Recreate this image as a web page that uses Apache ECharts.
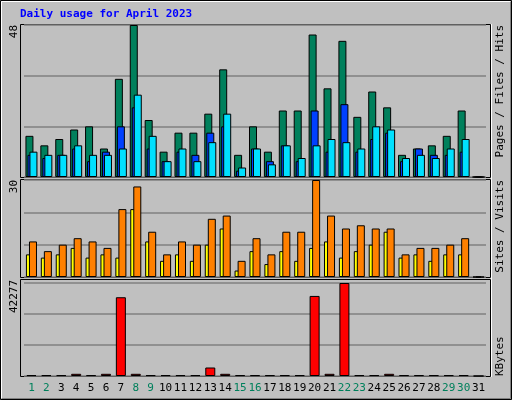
<!DOCTYPE html>
<html><head><meta charset="utf-8">
<script src="https://cdn.jsdelivr.net/npm/echarts@6/dist/echarts.min.js"></script>
<style>html,body{margin:0;padding:0;background:#c0c0c0}#c{width:512px;height:400px}</style>
</head><body><div id="c"></div>
<script>
const days = ['1','2','3','4','5','6','7','8','9','10','11','12','13','14','15','16','17','18','19','20','21','22','23','24','25','26','27','28','29','30','31'];
const weekend = ['1','2','8','9','15','16','22','23','29','30'];
const hits  = [13,10,12,15,16,9,31,48,18,8,14,14,20,34,7,16,8,21,21,45,28,43,19,27,22,7,9,10,13,21,0];
const files = [7,6,7,9,5,8,16,22,9,5,8,7,14,16,2,9,5,10,5,21,8,23,8,12,14,5,9,7,7,8,0];
const pages = [8,7,7,10,7,7,9,26,13,5,9,5,11,20,3,9,4,10,6,10,12,11,9,16,15,6,7,6,9,12,0];
const sites = [7,6,7,9,6,7,6,21,11,5,7,5,10,15,2,8,4,8,5,9,11,6,8,10,14,6,7,5,7,7,0];
const visits= [11,8,10,12,11,9,21,28,14,7,11,10,18,19,5,12,7,14,14,30,19,15,16,15,15,7,9,9,10,12,0];
const kbytes= [400,400,400,1000,400,1000,35800,1000,400,400,400,400,3860,1000,400,400,400,400,400,36400,1000,42277,400,400,1000,400,400,400,400,400,0];
const maxLabels = ['48','30','42277'];

const ch = echarts.init(document.getElementById('c'));
const L = 24, W = 462;
const grids = [
  {left:L, width:W, top:25, height:152},
  {left:L, width:W, top:180, height:97},
  {left:L, width:W, top:283, height:93}
];
const mkX = (i, show) => ({type:'category', gridIndex:i, data:days, boundaryGap:true,
  axisLine:{show:false}, axisTick:{show:false},
  axisLabel:{show:show, margin:7, interval:0, fontFamily:'DejaVu Sans Mono', fontSize:11,
    formatter:v => weekend.includes(v) ? '{g|'+v+'}' : '{k|'+v+'}',
    rich:{g:{color:'#00805c', fontFamily:'DejaVu Sans Mono', fontSize:11}, k:{color:'#000', fontFamily:'DejaVu Sans Mono', fontSize:11}}}});
const mkY = (i, max) => ({type:'value', gridIndex:i, min:0, max:max, interval:max/3,
  axisLabel:{show:false}, axisLine:{show:false}, axisTick:{show:false},
  splitLine:{lineStyle:{color:'#808080', width:1.5}}});
const bs = {borderColor:'#000', borderWidth:1};
const bar = (name, data, xi, color, w, gap) => ({type:'bar', name, data, xAxisIndex:xi, yAxisIndex:xi,
  barWidth:w, barGap:gap, itemStyle:Object.assign({color}, bs), animation:false});
const rot = (x, y, rich, txt, align) => ({type:'text', x, y, rotation:Math.PI/2,
  style:{text:txt, rich, fontFamily:'DejaVu Sans Mono', fontSize:11, align:align, verticalAlign:'middle'}});
const rich = {p:{color:'#00e0ff'}, f:{color:'#0040ff'}, h:{color:'#00805c'}, s:{color:'#ff8000'}, v:{color:'#ffff00'}, k:{color:'#ff0000'}, b:{color:'#000'}};
ch.setOption({
  backgroundColor:'#c0c0c0',
  animation:false,
  grid:grids,
  xAxis:[mkX(0,false), mkX(1,false), mkX(2,true)],
  yAxis:[mkY(0,48), mkY(1,30), mkY(2,42277)],
  series:[
    bar('Hits', hits, 0, '#00805c', 8, '-75%'),
    bar('Files', files, 0, '#0040ff', 8, '-75%'),
    bar('Pages', pages, 0, '#00e0ff', 8, '-75%'),
    bar('Sites', sites, 1, '#ffff00', 8, '-62%'),
    bar('Visits', visits, 1, '#ff8000', 8, '-62%'),
    bar('KBytes', kbytes, 2, '#ff0000', 10, '0%')
  ],
  graphic:[
    {type:'rect', shape:{x:0.5,y:0.5,width:511,height:399}, style:{fill:'none', stroke:'#000'}},
    {type:'polyline', shape:{points:[[1.5,398],[1.5,1.5],[510,1.5]]}, style:{stroke:'#fff', fill:'none'}},
    {type:'polyline', shape:{points:[[2,398.5],[510.5,398.5],[510.5,2]]}, style:{stroke:'#808080', fill:'none'}},
    {type:'rect', shape:{x:20.5,y:24.5,width:470,height:153}, style:{fill:'none', stroke:'#000', lineWidth:1}},
    {type:'rect', shape:{x:20.5,y:179.5,width:470,height:98}, style:{fill:'none', stroke:'#000', lineWidth:1}},
    {type:'rect', shape:{x:20.5,y:279.5,width:470,height:97}, style:{fill:'none', stroke:'#000', lineWidth:1}},
    {type:'polyline', shape:{points:[[491.5,24],[491.5,377]]}, style:{stroke:'#fff', fill:'none'}},
    {type:'text', x:20, y:9, style:{text:'Daily usage for April 2023', fill:'#0000ff', fontFamily:'DejaVu Sans Mono', fontWeight:'bold', fontSize:11}},
    rot(14, 25, rich, '{b|'+maxLabels[0]+'}', 'right'),
    rot(14, 180, rich, '{b|'+maxLabels[1]+'}', 'right'),
    rot(14, 280, rich, '{b|'+maxLabels[2]+'}', 'right'),
    rot(500, 25, rich, '{p|Pages}{b| / }{f|Files}{b| / }{h|Hits}', 'right'),
    rot(500, 180, rich, '{s|Sites}{b| / }{v|Visits}', 'right'),
    rot(500, 376, rich, '{k|KBytes}', 'left')
  ]
});
</script></body></html>
